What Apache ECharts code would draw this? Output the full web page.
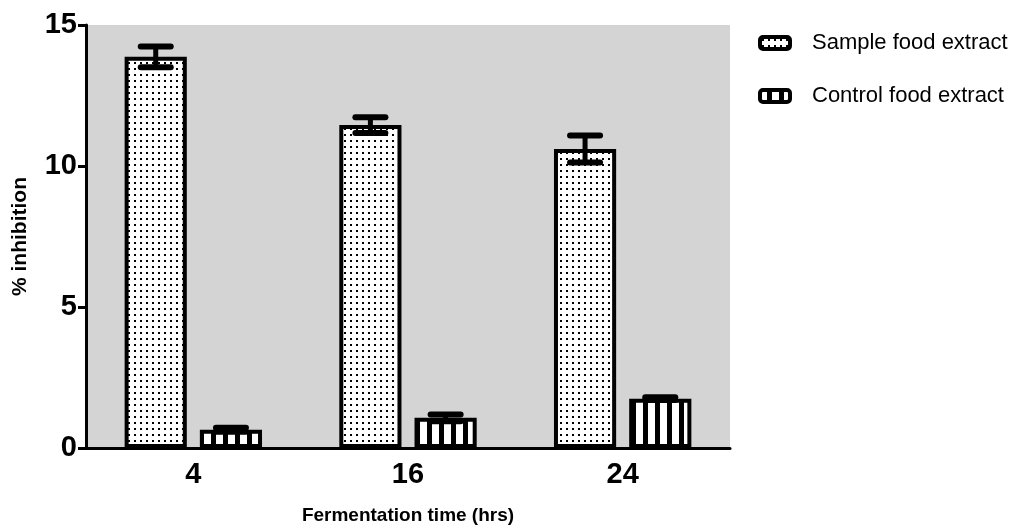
<!DOCTYPE html>
<html>
<head>
<meta charset="utf-8">
<script src="https://cdn.jsdelivr.net/npm/echarts@6/dist/echarts.min.js"></script>
<style>
  html, body { margin: 0; padding: 0; background: #fff; }
  #chart { width: 1013px; height: 525px; }
</style>
</head>
<body>
<div id="chart"></div>
<script>
// data
const categories = ['4', '16', '24'];
const sampleMean = [13.87, 11.45, 10.6];
const sampleErr = [0.37, 0.28, 0.48];
const controlMean = [0.65, 1.07, 1.75];
const controlErr = [0.07, 0.12, 0.05];
const seriesNames = ['Sample food extract', 'Control food extract'];

const CAT_GAP = 0.36;
const BAR_GAP = 0.21;

// fill patterns
function dotPattern() {
  const c = document.createElement('canvas');
  c.width = 6; c.height = 6;
  const ctx = c.getContext('2d');
  ctx.fillStyle = '#fff';
  ctx.fillRect(0, 0, 6, 6);
  ctx.fillStyle = '#000';
  ctx.fillRect(2, 2, 2, 2);
  return c;
}
function stripePattern() {
  const c = document.createElement('canvas');
  c.width = 12; c.height = 4;
  const ctx = c.getContext('2d');
  ctx.fillStyle = '#fff';
  ctx.fillRect(0, 0, 12, 4);
  ctx.fillStyle = '#000';
  ctx.fillRect(7, 0, 5, 4);
  return c;
}
const dots = { image: dotPattern(), repeat: 'repeat' };
const stripes = { image: stripePattern(), repeat: 'repeat' };

function errorSeries(means, errs, idx) {
  const data = means.map((m, i) => [i, m, errs[i]]);
  return {
    type: 'custom',
    z: 10,
    silent: true,
    data: data,
    encode: { x: 0, y: 1 },
    renderItem: function (params, api) {
      const i = api.value(0);
      const m = api.value(1);
      const e = api.value(2);
      const band = api.size([1, 0])[0];
      const bw = band * (1 - CAT_GAP) / (2 + BAR_GAP);
      const off = (idx === 0 ? -1 : 1) * bw * (1 + BAR_GAP) / 2;
      const top = api.coord([i, m + e]);
      const bot = api.coord([i, m - e]);
      const x = top[0] + off;
      const half = 15;
      const st = { stroke: '#000', lineWidth: 6, lineCap: 'round' };
      return {
        type: 'group',
        children: [
          { type: 'line', shape: { x1: x, y1: top[1], x2: x, y2: bot[1] }, style: { stroke: '#000', lineWidth: 5 } },
          { type: 'line', shape: { x1: x - half, y1: top[1], x2: x + half, y2: top[1] }, style: st },
          { type: 'line', shape: { x1: x - half, y1: bot[1], x2: x + half, y2: bot[1] }, style: st }
        ]
      };
    }
  };
}

const chart = echarts.init(document.getElementById('chart'));
chart.setOption({
  animation: false,
  textStyle: { fontFamily: 'Liberation Sans, Arial, sans-serif' },
  grid: {
    left: 86, top: 25, width: 644, height: 423,
    outerBoundsMode: 'none',
    containLabel: false,
    show: true, backgroundColor: '#d4d4d4', borderWidth: 0
  },
  legend: {
    orient: 'vertical',
    left: 758,
    top: 32,
    padding: 0,
    itemGap: 31,
    itemWidth: 30,
    itemHeight: 12,
    icon: 'roundRect',
    data: seriesNames,
    itemStyle: { borderColor: '#000', borderWidth: 4 },
    textStyle: { fontSize: 22, color: '#000', padding: [0, 0, 0, 17] }
  },
  xAxis: {
    type: 'category',
    data: categories,
    name: 'Fermentation time (hrs)',
    nameLocation: 'middle',
    nameGap: 58,
    nameTextStyle: { fontSize: 19, fontWeight: 'bold', color: '#000' },
    axisLine: { lineStyle: { color: '#000', width: 3 } },
    axisTick: { alignWithLabel: true, length: 8, lineStyle: { color: '#000', width: 3 } },
    axisLabel: { fontSize: 29, fontWeight: 'bold', color: '#000', margin: 12 },
    splitLine: { show: false }
  },
  yAxis: {
    type: 'value',
    min: 0, max: 15, interval: 5,
    name: '% inhibition',
    nameLocation: 'middle',
    nameRotate: 90,
    nameGap: 55,
    nameTextStyle: { fontSize: 21, fontWeight: 'bold', color: '#000' },
    axisLine: { show: true, lineStyle: { color: '#000', width: 3 } },
    axisTick: { show: true, length: 8, lineStyle: { color: '#000', width: 3 } },
    axisLabel: { fontSize: 29, fontWeight: 'bold', color: '#000', margin: 9 },
    splitLine: { show: false }
  },
  series: [
    {
      name: seriesNames[0],
      type: 'bar',
      data: sampleMean,
      barCategoryGap: (CAT_GAP * 100) + '%',
      barGap: (BAR_GAP * 100) + '%',
      itemStyle: { color: dots, borderColor: '#000', borderWidth: 4 }
    },
    {
      name: seriesNames[1],
      type: 'bar',
      data: controlMean,
      barCategoryGap: (CAT_GAP * 100) + '%',
      barGap: (BAR_GAP * 100) + '%',
      itemStyle: { color: stripes, borderColor: '#000', borderWidth: 4 }
    },
    errorSeries(sampleMean, sampleErr, 0),
    errorSeries(controlMean, controlErr, 1)
  ]
});
</script>
</body>
</html>
